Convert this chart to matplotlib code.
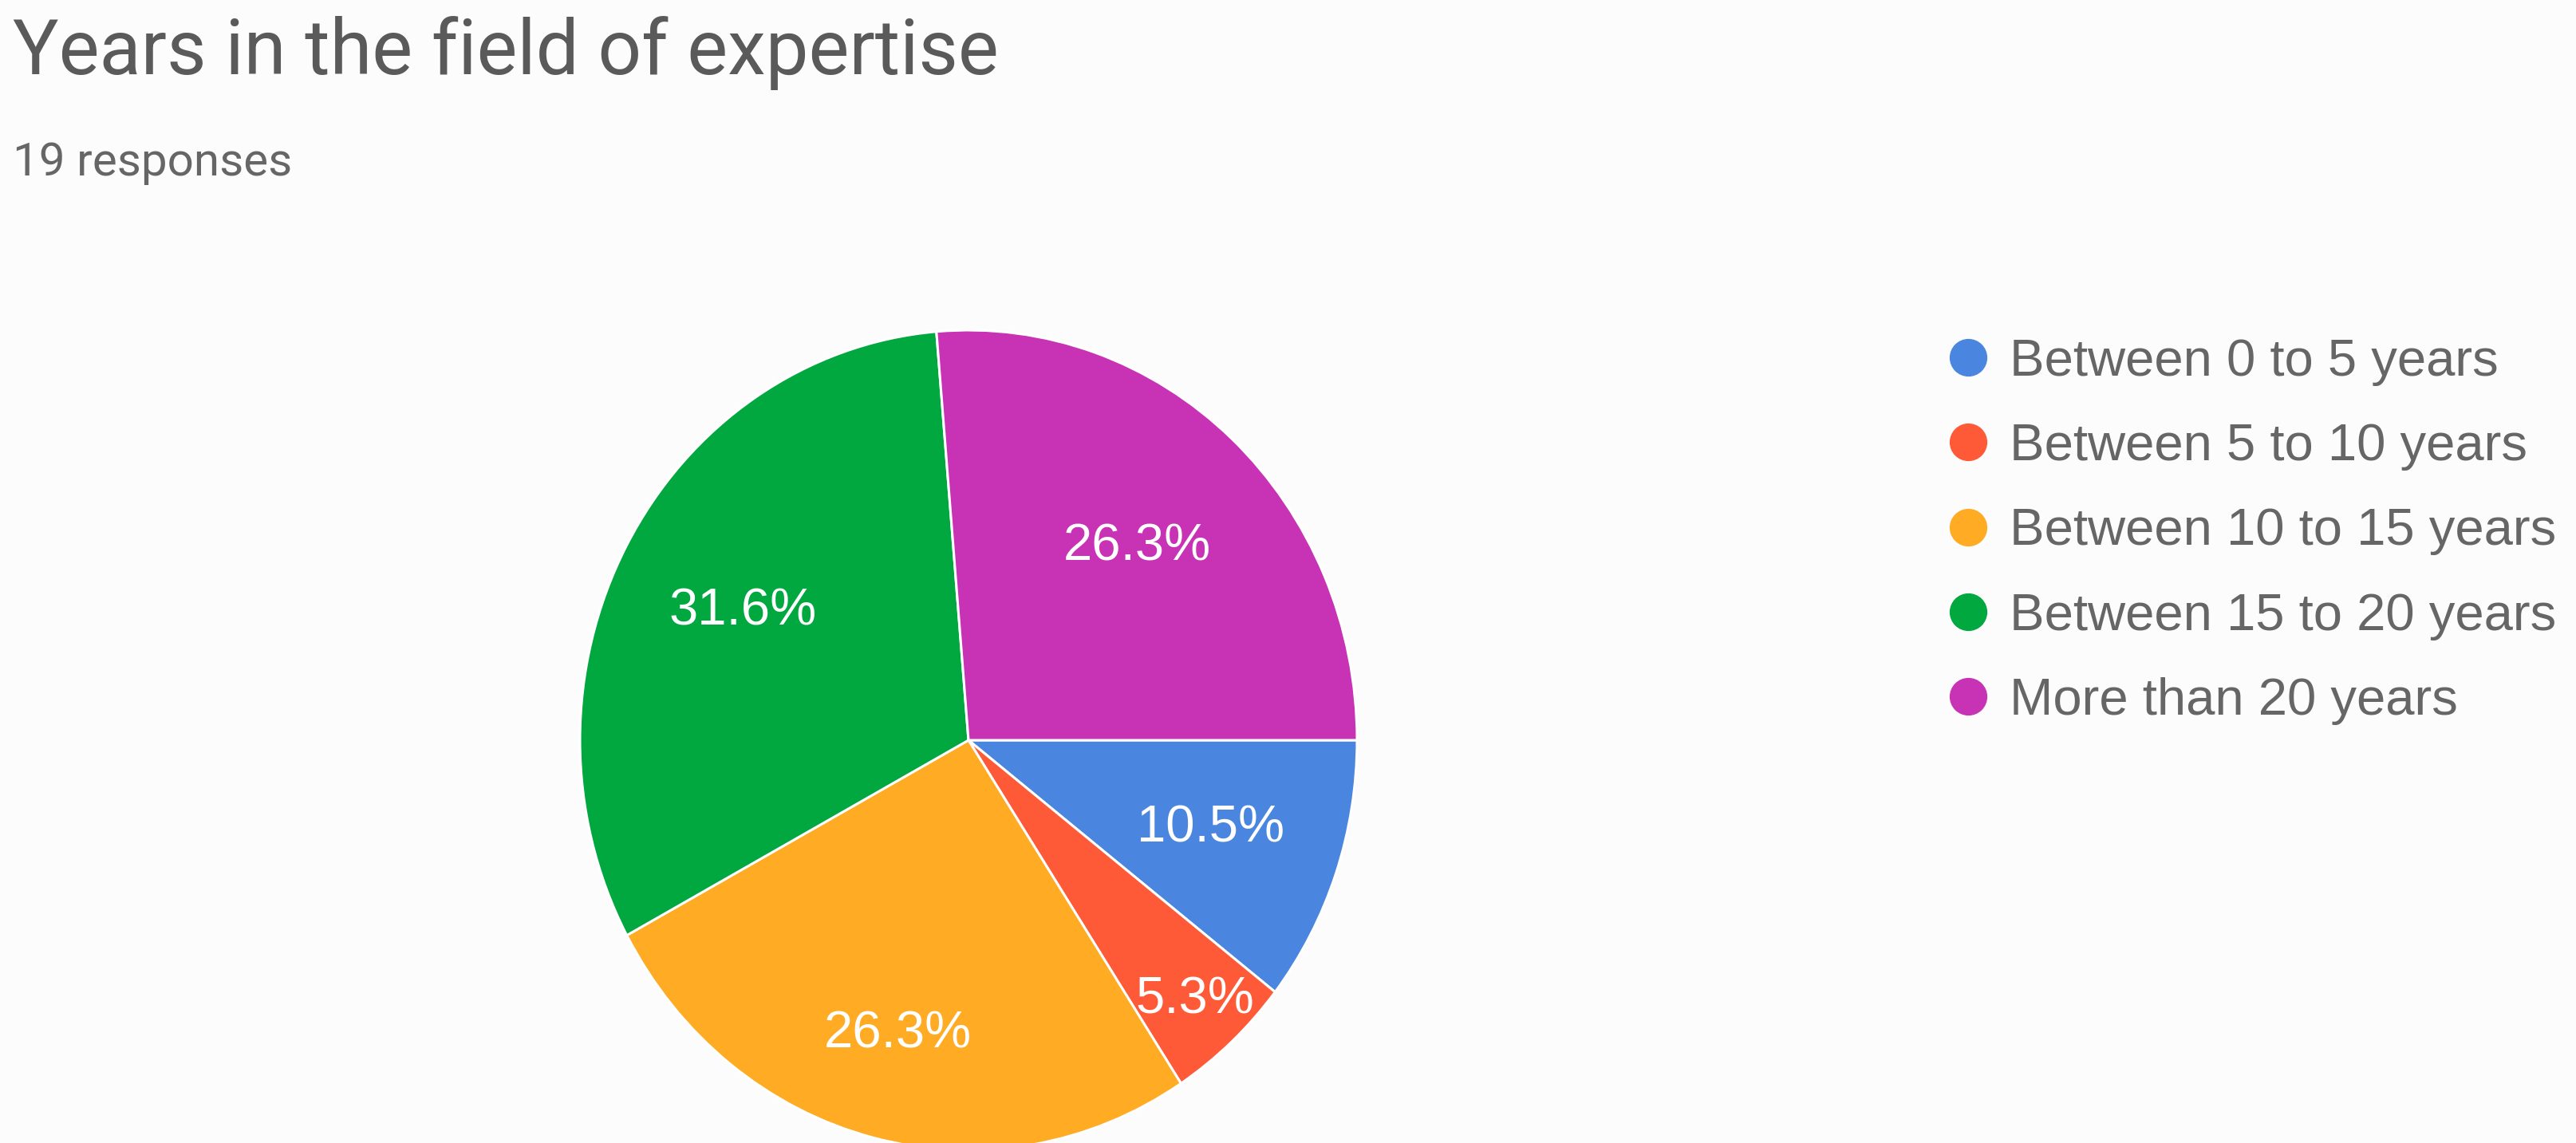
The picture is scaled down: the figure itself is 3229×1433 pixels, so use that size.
import numpy as np
import matplotlib.pyplot as plt
from matplotlib.lines import Line2D

plt.rcParams['font.family'] = ['Roboto', 'DejaVu Sans']

title = "Years in the field of expertise"
subtitle = "19 responses"
categories = ["Between 0 to 5 years", "Between 5 to 10 years",
              "Between 10 to 15 years", "Between 15 to 20 years",
              "More than 20 years"]
counts = [2, 1, 5, 6, 5]
colors = ["#4a86e0", "#ff5a38", "#ffab24", "#00a83f", "#c832b4"]
label_dist = [0.66, 0.86, 0.74, 0.66, 0.64]

W, H = 3230, 1433
fig = plt.figure(figsize=(W / 100, H / 100), dpi=100, facecolor="#fcfcfc")

# pie is slightly taller than wide in the reference
cx, cy, rx, ry = 1214, 505, 487, 514
ax = fig.add_axes([(cx - rx) / W, (cy - ry) / H, 2 * rx / W, 2 * ry / H])
ax.set_facecolor("none")

wedges, texts, autotexts = ax.pie(
    counts, colors=colors, startangle=0, counterclock=False,
    autopct="%1.1f%%", pctdistance=0.66,
    wedgeprops=dict(edgecolor="white", linewidth=2.2),
    textprops=dict(color="white", fontsize=47, family="Liberation Sans"),
)
for w, t, d in zip(wedges, autotexts, label_dist):
    mid = np.deg2rad((w.theta1 + w.theta2) / 2)
    t.set_position((d * np.cos(mid), d * np.sin(mid)))
ax.set_aspect("auto")
ax.set_xlim(-1, 1)
ax.set_ylim(-1, 1)
ax.axis("off")

fig.text(16 / W, 1 - 93 / H, title, fontsize=69, color="#5a5a5a",
         ha="left", va="baseline")
fig.text(16 / W, 1 - 220 / H, subtitle, fontsize=42, color="#666666",
         ha="left", va="baseline")

handles = [Line2D([], [], marker="o", linestyle="none", markersize=33,
                  markerfacecolor=c, markeredgecolor=c) for c in colors]
fig.legend(handles, categories, loc="upper left",
           bbox_to_anchor=(2372 / W, 1 - 365 / H), frameon=False,
           prop=dict(family="Liberation Sans", size=47),
           labelcolor="#666666", labelspacing=0.71,
           handletextpad=0.25, handlelength=1.1)

fig.savefig("out.png", dpi=100, facecolor=fig.get_facecolor())
